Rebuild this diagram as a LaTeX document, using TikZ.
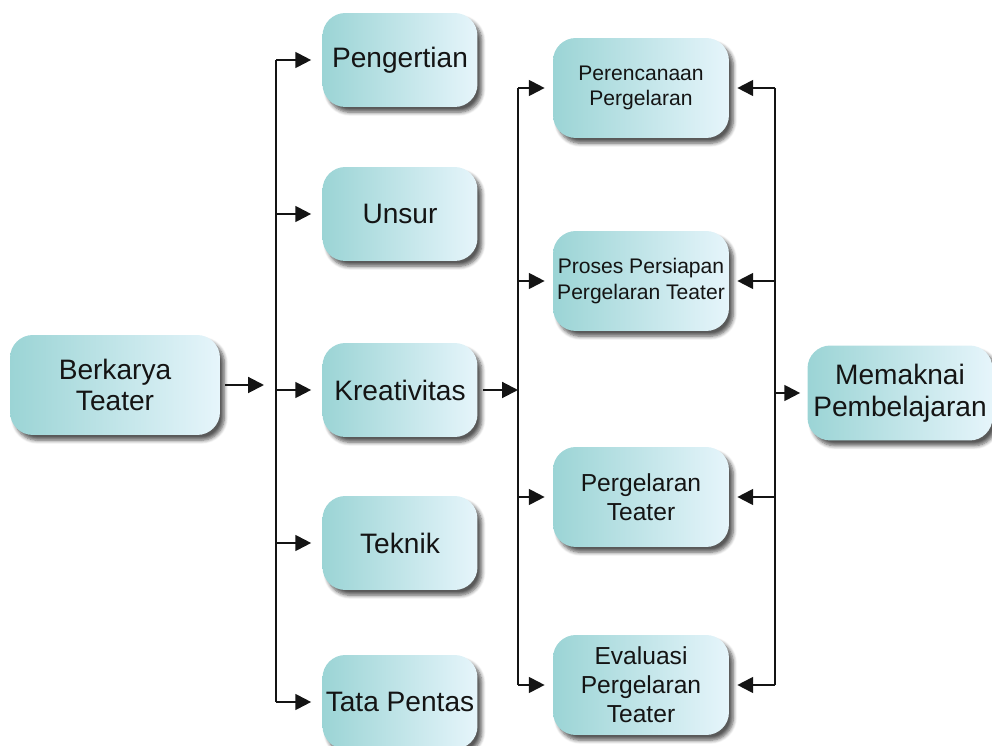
\documentclass[tikz,border=0pt]{standalone}
\usepackage{fontspec}
\setmainfont{Liberation Sans}
\usetikzlibrary{positioning,arrows.meta,shadows.blur,calc}
\definecolor{ink}      {HTML}{141414}
\definecolor{tealdark} {HTML}{9BD4D5}
\definecolor{teallight}{HTML}{E6F5FB}
\tikzset{
  >={Triangle[length=9pt,width=9pt]},
  % --- nodes
  box/.style   = {rounded corners=13pt, left color=tealdark, right color=teallight,
                  align=center, inner sep=1pt, text=ink,
                  blur shadow={shadow xshift=2.5pt, shadow yshift=-3pt,
                               shadow opacity=65, shadow blur steps=6}},
  big/.style   = {box, font=\fontsize{16}{18}\selectfont},
  mid/.style   = {box, font=\fontsize{14}{16.5}\selectfont},
  small/.style = {box, font=\fontsize{12}{14.5}\selectfont},
  colA/.style  = {minimum width=3.1cm, minimum height=1.88cm},
  colB/.style  = {minimum width=3.52cm, minimum height=2cm},
  % --- edges
  bus/.style   = {draw=ink, line width=1.15pt},
  e/.style     = {->, draw=ink, line width=1.15pt},
}

\begin{document}
\begin{tikzpicture}[x=0.02cm, y=-0.02cm]
  \useasboundingbox (0,0) rectangle (992,746);

  \node[big, minimum width=4.2cm, minimum height=2cm] (berkarya) at (115,385) {Berkarya\\Teater};

  \node[big, colA] (pengertian)  at (400,60)  {Pengertian};
  \node[big, colA] (unsur)       at (400,214) {Unsur};
  \node[big, colA] (kreativitas) at (400,390) {Kreativitas};
  \node[big, colA] (teknik)      at (400,543) {Teknik};
  \node[big, colA] (tatapentas)  at (400,702) {Tata Pentas};

  \node[small, colB] (perencanaan) at (641,88)  {Perencanaan\\Pergelaran};
  \node[small, colB] (proses)      at (641,281) {Proses Persiapan\\Pergelaran Teater};
  \node[mid, colB]   (pergelaran)  at (641,497) {Pergelaran\\Teater};
  \node[mid, colB]   (evaluasi)    at (641,685) {Evaluasi\\Pergelaran\\Teater};

  \node[big, minimum width=3.7cm, minimum height=1.9cm] (memaknai) at (900,393) {Memaknai\\Pembelajaran};

  \coordinate (inA)  at (264,0);
  \coordinate (busA) at (276,0);
  \coordinate (busB) at (518,0);
  \coordinate (busC) at (775,0);

  % left fan
  \draw[e, shorten <=0.1cm] (berkarya.east) -- (berkarya.east -| inA);
  \draw[bus] (pengertian.west -| busA) -- (tatapentas.west -| busA);
  \foreach \n in {pengertian,unsur,kreativitas,teknik,tatapentas}
    \draw[e, shorten >=0.22cm] (\n.west -| busA) -- (\n.west);

  % middle fan
  \draw[e, shorten <=0.1cm] (kreativitas.east) -- (kreativitas.east -| busB);
  \draw[bus] (perencanaan.west -| busB) -- (evaluasi.west -| busB);
  \foreach \n in {perencanaan,proses,pergelaran,evaluasi}
    \draw[e, shorten >=0.16cm] (\n.west -| busB) -- (\n.west);

  % right fan
  \draw[bus] (perencanaan.east -| busC) -- (evaluasi.east -| busC);
  \foreach \n in {perencanaan,proses,pergelaran,evaluasi}
    \draw[e, shorten >=0.16cm] (\n.east -| busC) -- (\n.east);
  \draw[e, shorten >=0.14cm] (memaknai.west -| busC) -- (memaknai.west);
\end{tikzpicture}
\end{document}
